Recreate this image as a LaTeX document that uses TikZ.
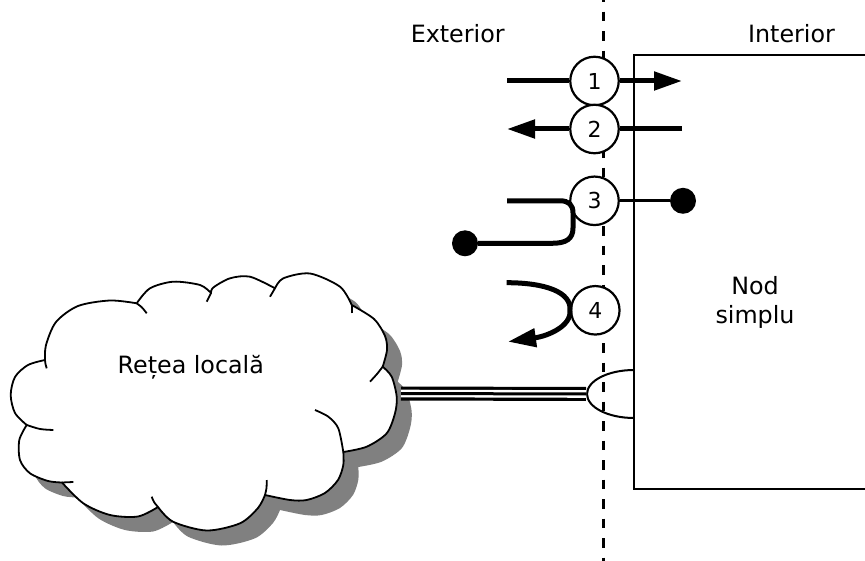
\documentclass[tikz,border=0pt]{standalone}
\usepackage{fontspec}
\setmainfont{DejaVu Sans}
\usetikzlibrary{arrows.meta,shapes.geometric}
\newcommand\mycloudoutline{%
plot[smooth] coordinates {(136.7,303.3) (110,300.5) (78,306) (56,322) (46,345) (45,360)}
-- plot[smooth] coordinates {(45,360) (28,365) (15,377) (10.7,395) (15,413) (26.7,425)}
-- plot[smooth] coordinates {(26.7,425) (19.3,440) (20,460) (30,473.3) (48,481) (62,482.5)}
-- plot[smooth] coordinates {(62,482.5) (83.3,503.3) (110,515) (138,516.5) (158,507)}
-- plot[smooth] coordinates {(158,507) (173,521.7) (206.7,530.5) (240,523.3) (258,508) (265,495)}
-- plot[smooth] coordinates {(265,495) (290,500) (306.7,500) (325,493) (338,480) (343.3,465) (343.3,452)}
-- plot[smooth] coordinates {(343.3,452) (366.7,446.7) (386.7,433.3) (395,413.3) (396.7,396.7) (391.7,376.7) (382.7,366.7)}
-- plot[smooth] coordinates {(382.7,366.7) (387,350) (385,336) (374,319) (351.7,305)}
-- plot[smooth] coordinates {(351.7,305) (340,286.7) (310,273.5) (283.3,278.3) (275,288.3)}
-- plot[smooth] coordinates {(275,288.3) (250,276.7) (230,278.3) (213.3,287.5) (211,293)}
-- plot[smooth] coordinates {(211,293) (200,285) (173.3,281.7) (150,288.3) (136.7,303.3)}
-- cycle}
\begin{document}
\begin{tikzpicture}[x=1pt,y=-1pt,
  thk/.style={line width=5pt},
  thn/.style={line width=3.2pt},
  num/.style={circle,draw,line width=2.2pt,fill=white,minimum size=48.5pt,inner sep=0pt,font=\fontsize{22}{26}\selectfont},
  dotnode/.style={circle,fill=black,minimum size=26pt,inner sep=0pt},
  lbl/.style={font=\fontsize{23.8}{29}\selectfont,inner sep=0pt},
  tipA/.style={-{Triangle[length=28pt,width=18pt]}},
  cloudline/.style={line width=1.8pt},
  shadowcol/.style={fill=black!50},
]
\useasboundingbox (0,0) rectangle (865,561);

% cloud shadow
\begin{scope}[shift={(15,15)}]
  \path[shadowcol] \mycloudoutline;
\end{scope}
% cloud
\path[fill=white,draw=black,cloudline,line join=round] \mycloudoutline;
% inner arc ends of the cloud
\draw[cloudline] plot[smooth] coordinates {(136.7,303.3) (142,307.5) (146.7,313.3)};
\draw[cloudline] plot[smooth] coordinates {(45,360) (45.5,364) (46.7,368.3)};
\draw[cloudline] plot[smooth] coordinates {(26.7,425) (40,429) (53.3,430)};
\draw[cloudline] plot[smooth] coordinates {(62,482.5) (73.3,482)};
\draw[cloudline] plot[smooth] coordinates {(151.7,496.7) (154,502) (158,507)};
\draw[cloudline] plot[smooth] coordinates {(265,495) (266.5,488) (266.7,480)};
\draw[cloudline] plot[smooth] coordinates {(343.3,452) (338.3,428.3) (328.3,416.7) (315,410)};
\draw[cloudline] plot[smooth] coordinates {(370,381.7) (377,374) (382.7,366.7)};
\draw[cloudline] plot[smooth] coordinates {(351.7,313.3) (351.7,305)};
\draw[cloudline] plot[smooth] coordinates {(275,288.3) (270,296.7)};
\draw[cloudline] plot[smooth] coordinates {(211,293) (206.7,301.7)};
\node[lbl,anchor=base] (lan) at (190.8,373.3) {Rețea locală};

% node rectangle
\draw[line width=2.4pt] (634,55) rectangle (878,489);

% boundary
\coordinate (dtop) at (603,-7.8);
\coordinate (dbot) at (603,570);
\draw[line width=3pt,dash pattern=on 9.5pt off 10pt] (dtop) -- (dbot);

% port (half ellipse) and link
\begin{scope}
  \clip (520,340) rectangle (634,440);
  \node[ellipse,draw,line width=2pt,minimum width=94pt,minimum height=48pt,inner sep=0pt] (port) at (634,394) {};
\end{scope}
\coordinate (lanr) at (401,393.5);
\draw[line width=14pt] (lanr) -- (port.west);
\draw[line width=7.6pt,white] (lanr) -- (port.west);
\draw[line width=3pt] (lanr) -- (port.west);

% numbered circles
\node[num] (c1) at (594.5,81) {1};
\node[num] (c2) at (594.5,129) {2};
\node[num] (c3) at (594.5,200.8) {3};
\node[num] (c4) at (595.3,310.3) {4};

\coordinate (a1s) at (507,81);
\coordinate (a1e) at (682,81);
\coordinate (a2s) at (682,129);
\coordinate (a2e) at (507,129);
\coordinate (a3s) at (507,200.8);
\coordinate (a4s) at (506.7,282.7);
\coordinate (a4e) at (508,341.7);
\node[dotnode] (d3r) at (683,200.8) {};
\node[dotnode] (d3l) at (465,243.3) {};

\draw[thk] (a1s) -- (c1);
\draw[thk,tipA] (c1) -- (a1e);
\draw[thk] (a2s) -- (c2);
\draw[thk,tipA] (c2) -- (a2e);
\draw[thn] (c3) -- (d3r);
\draw[thk] (a3s) -- (560,200.8) .. controls (569,200.8) and (573,205) .. (573,213)
  -- (573,228) .. controls (573,239) and (566,243.3) .. (552,243.3) -- (d3l);
\draw[thk,tipA] (a4s) .. controls (545,282.7) and (571.7,292) .. (c4.west)
  .. controls (571.7,326) and (548,336) .. (a4e);

% labels
\node[lbl,anchor=base] (ext) at (457.7,42.3) {Exterior};
\node[lbl,anchor=base] (int) at (791.5,42.3) {Interior};
\node[lbl,anchor=base,align=center] (nod) at (755,324) {Nod\\simplu};
\end{tikzpicture}
\end{document}
